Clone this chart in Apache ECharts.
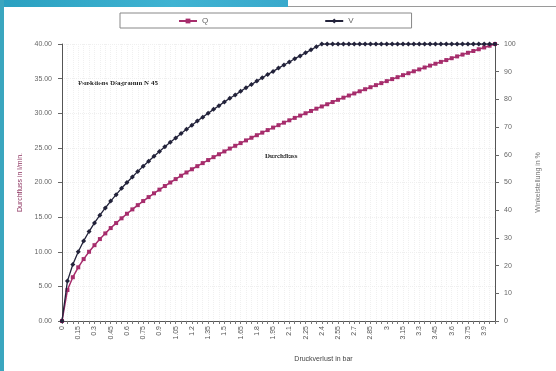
<!DOCTYPE html>
<html>
<head>
<meta charset="utf-8">
<script src="https://cdn.jsdelivr.net/npm/echarts@6/dist/echarts.min.js"></script>
<style>
  html, body { margin: 0; padding: 0; background: #ffffff; }
  #frame { position: relative; width: 556px; height: 371px; overflow: hidden; background: #ffffff; }
  #topbar { position: absolute; left: 0; top: 0; width: 288px; height: 7px;
            background: linear-gradient(90deg, #2aa0c0, #3fb3d2 60%, #39a9cc); }
  #topline { position: absolute; left: 288px; top: 6px; right: 0; height: 1px; background: #9a9a9a; }
  #leftbar { position: absolute; left: 0; top: 0; width: 4px; height: 371px; background: #3aa6bf; }
  #chart { position: absolute; left: 0; top: 0; width: 556px; height: 371px; }
</style>
</head>
<body>
<div id="frame">
  <div id="topbar"></div>
  <div id="topline"></div>
  <div id="leftbar"></div>
  <div id="chart"></div>
</div>
<script>
// Druckverlust in bar (0 ... 4.0 in 0.05 steps)
const pressure = [
  '0','0.05','0.1','0.15','0.2','0.25','0.3','0.35','0.4','0.45',
  '0.5','0.55','0.6','0.65','0.7','0.75','0.8','0.85','0.9','0.95',
  '1','1.05','1.1','1.15','1.2','1.25','1.3','1.35','1.4','1.45',
  '1.5','1.55','1.6','1.65','1.7','1.75','1.8','1.85','1.9','1.95',
  '2','2.05','2.1','2.15','2.2','2.25','2.3','2.35','2.4','2.45',
  '2.5','2.55','2.6','2.65','2.7','2.75','2.8','2.85','2.9','2.95',
  '3','3.05','3.1','3.15','3.2','3.25','3.3','3.35','3.4','3.45',
  '3.5','3.55','3.6','3.65','3.7','3.75','3.8','3.85','3.9','3.95','4'
];

// Durchfluss Q in l/min
const flowQ = [
  0, 4.47, 6.32, 7.75, 8.94, 10.00, 10.95, 11.83, 12.65, 13.42,
  14.14, 14.83, 15.49, 16.12, 16.73, 17.32, 17.89, 18.44, 18.97, 19.49,
  20.00, 20.49, 20.98, 21.45, 21.91, 22.36, 22.80, 23.24, 23.66, 24.08,
  24.49, 24.90, 25.30, 25.69, 26.08, 26.46, 26.83, 27.20, 27.57, 27.93,
  28.28, 28.64, 28.98, 29.33, 29.66, 30.00, 30.33, 30.66, 30.98, 31.30,
  31.62, 31.94, 32.25, 32.56, 32.86, 33.17, 33.47, 33.76, 34.06, 34.35,
  34.64, 34.93, 35.21, 35.50, 35.78, 36.06, 36.33, 36.61, 36.88, 37.15,
  37.42, 37.68, 37.95, 38.21, 38.47, 38.73, 38.99, 39.24, 39.50, 39.75, 40.00
];

// Winkelstellung V in %
const angleV = [
  0, 14.4, 20.4, 25.0, 28.9, 32.3, 35.4, 38.2, 40.8, 43.3,
  45.6, 47.9, 50.0, 52.0, 54.0, 55.9, 57.7, 59.5, 61.2, 62.9,
  64.5, 66.1, 67.7, 69.2, 70.7, 72.2, 73.6, 75.0, 76.4, 77.7,
  79.1, 80.4, 81.6, 82.9, 84.2, 85.4, 86.6, 87.8, 89.0, 90.1,
  91.3, 92.4, 93.5, 94.7, 95.7, 96.8, 97.9, 99.0, 100, 100,
  100, 100, 100, 100, 100, 100, 100, 100, 100, 100,
  100, 100, 100, 100, 100, 100, 100, 100, 100, 100,
  100, 100, 100, 100, 100, 100, 100, 100, 100, 100, 100
];

const seriesNames = ['Q', 'V'];

const chart = echarts.init(document.getElementById('chart'), null, { renderer: 'canvas' });
const tickFont = { fontFamily: 'Liberation Sans, Arial, sans-serif', fontSize: 7, color: '#666' };

chart.setOption({
  animation: false,
  backgroundColor: 'transparent',
  legend: {
    data: seriesNames,
    left: 120, top: 13,
    itemGap: 116,
    itemWidth: 18, itemHeight: 6,
    padding: [4, 58, 3, 58],
    borderColor: '#888', borderWidth: 1,
    textStyle: { fontFamily: 'Liberation Sans, Arial, sans-serif', fontSize: 8, color: '#666' }
  },
  grid: { left: 62, right: 61, top: 44, bottom: 50 },
  xAxis: {
    type: 'category',
    data: pressure,
    boundaryGap: false,
    name: 'Druckverlust in bar',
    nameLocation: 'middle',
    nameGap: 35,
    nameTextStyle: { fontFamily: 'Liberation Sans, Arial, sans-serif', fontSize: 7, color: '#444', padding: [0, 0, 0, 90] },
    axisLine: { lineStyle: { color: '#555', width: 1 } },
    axisTick: { show: true, interval: 0, length: 3, inside: false, lineStyle: { color: '#777' } },
    axisLabel: { ...tickFont, color: '#555', rotate: 90, interval: 2, margin: 5 },
    splitLine: { show: true, interval: 0, lineStyle: { color: '#f0f0f0', width: 1, type: 'dotted' } }
  },
  yAxis: [
    {
      type: 'value',
      min: 0, max: 40, interval: 5,
      name: 'Durchfluss in l/min.',
      nameLocation: 'middle',
      nameGap: 38,
      nameTextStyle: { fontFamily: 'Liberation Sans, Arial, sans-serif', fontSize: 7, color: '#8a2f5c' },
      axisLine: { show: true, lineStyle: { color: '#555' } },
      axisTick: { show: true, length: 4, lineStyle: { color: '#666' } },
      axisLabel: { ...tickFont, margin: 10, formatter: v => v.toFixed(2) },
      splitLine: { show: true, lineStyle: { color: '#efefef', type: 'dotted' } }
    },
    {
      type: 'value',
      min: 0, max: 100, interval: 10,
      name: 'Winkelstellung in %',
      nameLocation: 'middle',
      nameGap: 40,
      nameRotate: 90,
      nameTextStyle: { fontFamily: 'Liberation Sans, Arial, sans-serif', fontSize: 7, color: '#777' },
      axisLine: { show: true, lineStyle: { color: '#555' } },
      axisTick: { show: true, length: 4, lineStyle: { color: '#666' } },
      axisLabel: { ...tickFont, margin: 9 },
      splitLine: { show: false }
    }
  ],
  graphic: [
    {
      type: 'text', left: 78, top: 80,
      style: { text: 'Funktions Diagramm N 45', fontFamily: 'Liberation Serif, Times New Roman, serif',
               fontWeight: 'bold', fontSize: 7, fill: '#222' }
    },
    {
      type: 'text', left: 265, top: 153,
      style: { text: 'Durchfluss', fontFamily: 'Liberation Serif, Times New Roman, serif',
               fontWeight: 'bold', fontSize: 7, fill: '#222' }
    }
  ],
  series: [
    {
      name: 'Q', type: 'line', yAxisIndex: 0,
      data: flowQ,
      showAllSymbol: true,
      symbol: 'rect', symbolSize: 4,
      lineStyle: { color: '#a62d6c', width: 1.5 },
      itemStyle: { color: '#a62d6c' },
      z: 3
    },
    {
      name: 'V', type: 'line', yAxisIndex: 1,
      data: angleV,
      showAllSymbol: true,
      symbol: 'diamond', symbolSize: 5,
      lineStyle: { color: '#22223a', width: 1.3 },
      itemStyle: { color: '#22223a' },
      z: 4
    }
  ]
});
</script>
</body>
</html>
